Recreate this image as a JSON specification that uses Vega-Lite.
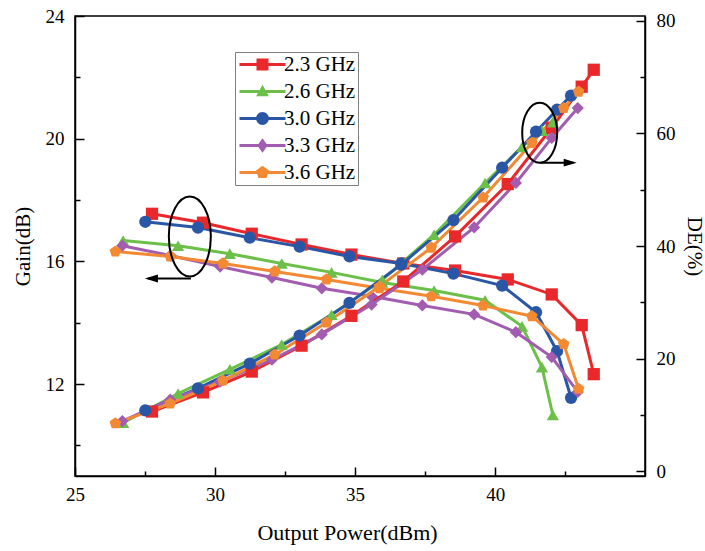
{
  "$schema": "https://vega.github.io/schema/vega-lite/v6.json",
  "width": 570,
  "height": 460,
  "autosize": {"type": "none"},
  "padding": {"left": 75, "top": 16, "right": 60, "bottom": 75},
  "background": "white",
  "config": {
    "view": {"stroke": "black", "strokeWidth": 1.5},
    "font": "Liberation Serif",
    "axis": {
      "grid": false,
      "domainColor": "black",
      "domainWidth": 1.5,
      "tickColor": "black",
      "tickWidth": 1.5,
      "labelFlush": false,
      "labelFont": "Liberation Serif",
      "labelFontSize": 19,
      "labelColor": "black",
      "titleFont": "Liberation Serif",
      "titleFontSize": 21,
      "titleFontWeight": "normal",
      "titleColor": "black"
    }
  },
  "datasets": {
    "main": [
      {"f": "2.3 GHz", "p": 27.75, "gain": 17.55, "de": 10.6},
      {"f": "2.3 GHz", "p": 29.57, "gain": 17.26, "de": 14.0},
      {"f": "2.3 GHz", "p": 31.31, "gain": 16.90, "de": 17.7},
      {"f": "2.3 GHz", "p": 33.09, "gain": 16.55, "de": 22.3},
      {"f": "2.3 GHz", "p": 34.87, "gain": 16.22, "de": 27.6},
      {"f": "2.3 GHz", "p": 36.72, "gain": 15.93, "de": 33.7},
      {"f": "2.3 GHz", "p": 38.57, "gain": 15.70, "de": 41.7},
      {"f": "2.3 GHz", "p": 40.45, "gain": 15.41, "de": 51.0},
      {"f": "2.3 GHz", "p": 42.02, "gain": 14.92, "de": 61.0},
      {"f": "2.3 GHz", "p": 43.09, "gain": 13.92, "de": 68.3},
      {"f": "2.3 GHz", "p": 43.52, "gain": 12.32, "de": 71.3},
      {"f": "2.6 GHz", "p": 26.72, "gain": 16.68, "de": 8.6},
      {"f": "2.6 GHz", "p": 28.68, "gain": 16.51, "de": 13.8},
      {"f": "2.6 GHz", "p": 30.53, "gain": 16.25, "de": 18.1},
      {"f": "2.6 GHz", "p": 32.38, "gain": 15.93, "de": 22.5},
      {"f": "2.6 GHz", "p": 34.16, "gain": 15.64, "de": 27.8},
      {"f": "2.6 GHz", "p": 35.97, "gain": 15.31, "de": 34.0},
      {"f": "2.6 GHz", "p": 37.82, "gain": 15.05, "de": 42.0},
      {"f": "2.6 GHz", "p": 39.64, "gain": 14.73, "de": 51.2},
      {"f": "2.6 GHz", "p": 40.96, "gain": 13.88, "de": 57.6},
      {"f": "2.6 GHz", "p": 41.67, "gain": 12.55, "de": 60.5},
      {"f": "2.6 GHz", "p": 42.06, "gain": 10.99, "de": 62.0},
      {"f": "3.0 GHz", "p": 27.51, "gain": 17.29, "de": 10.8},
      {"f": "3.0 GHz", "p": 29.39, "gain": 17.10, "de": 14.7},
      {"f": "3.0 GHz", "p": 31.24, "gain": 16.77, "de": 19.1},
      {"f": "3.0 GHz", "p": 33.02, "gain": 16.48, "de": 24.1},
      {"f": "3.0 GHz", "p": 34.80, "gain": 16.16, "de": 29.9},
      {"f": "3.0 GHz", "p": 36.65, "gain": 15.93, "de": 36.7},
      {"f": "3.0 GHz", "p": 38.51, "gain": 15.60, "de": 44.6},
      {"f": "3.0 GHz", "p": 40.25, "gain": 15.21, "de": 53.9},
      {"f": "3.0 GHz", "p": 41.46, "gain": 14.34, "de": 60.3},
      {"f": "3.0 GHz", "p": 42.21, "gain": 13.07, "de": 64.2},
      {"f": "3.0 GHz", "p": 42.71, "gain": 11.55, "de": 66.7},
      {"f": "3.3 GHz", "p": 26.69, "gain": 16.51, "de": 8.9},
      {"f": "3.3 GHz", "p": 28.40, "gain": 16.19, "de": 12.7},
      {"f": "3.3 GHz", "p": 30.18, "gain": 15.83, "de": 15.9},
      {"f": "3.3 GHz", "p": 32.03, "gain": 15.47, "de": 19.8},
      {"f": "3.3 GHz", "p": 33.81, "gain": 15.12, "de": 24.3},
      {"f": "3.3 GHz", "p": 35.59, "gain": 14.86, "de": 29.6},
      {"f": "3.3 GHz", "p": 37.40, "gain": 14.56, "de": 35.8},
      {"f": "3.3 GHz", "p": 39.25, "gain": 14.27, "de": 43.3},
      {"f": "3.3 GHz", "p": 40.74, "gain": 13.69, "de": 51.2},
      {"f": "3.3 GHz", "p": 42.02, "gain": 12.88, "de": 59.2},
      {"f": "3.3 GHz", "p": 42.95, "gain": 11.74, "de": 64.5},
      {"f": "3.6 GHz", "p": 26.44, "gain": 16.32, "de": 8.5},
      {"f": "3.6 GHz", "p": 28.40, "gain": 16.16, "de": 12.0},
      {"f": "3.6 GHz", "p": 30.28, "gain": 15.93, "de": 16.1},
      {"f": "3.6 GHz", "p": 32.13, "gain": 15.67, "de": 20.7},
      {"f": "3.6 GHz", "p": 33.98, "gain": 15.41, "de": 26.4},
      {"f": "3.6 GHz", "p": 35.87, "gain": 15.12, "de": 32.8},
      {"f": "3.6 GHz", "p": 37.72, "gain": 14.86, "de": 39.7},
      {"f": "3.6 GHz", "p": 39.57, "gain": 14.56, "de": 48.6},
      {"f": "3.6 GHz", "p": 41.31, "gain": 14.21, "de": 58.3},
      {"f": "3.6 GHz", "p": 42.45, "gain": 13.30, "de": 64.5},
      {"f": "3.6 GHz", "p": 42.98, "gain": 11.84, "de": 67.4}
    ],
    "gainNote": [{"cx": 29.1, "cy": 16.81, "a1": 29.14, "a2": 27.6, "ay": 15.44, "hx": 27.73}],
    "deNote": [{"cx": 41.59, "cy": 60.1, "a1": 41.62, "a2": 42.8, "ay": 54.8, "hx": 42.68}]
  },
  "encoding": {
    "x": {"type": "quantitative", "scale": {"domain": [25, 45.35], "nice": false, "zero": false},
      "axis": {
        "values": [25, 27.5, 30, 32.5, 35, 37.5, 40, 42.5],
        "labelExpr": "datum.value % 5 == 0 ? datum.label : ''",
        "tickSize": {"condition": {"test": "datum.value % 5 != 0", "value": -5}, "value": -9},
        "labelPadding": 18,
        "title": "Output Power(dBm)",
        "titleFontSize": 22,
        "titlePadding": 18,
        "titleX": 272,
        "titleAlign": "center"
      }}
  },
  "layer": [
    {
      "encoding": {
        "y": {"type": "quantitative", "scale": {"domain": [9, 24], "nice": false, "zero": false},
          "axis": {
            "orient": "left",
            "values": [10, 12, 14, 16, 18, 20, 22, 24],
            "labelExpr": "datum.value % 4 == 0 ? datum.label : ''",
            "tickSize": {"condition": {"test": "datum.value % 4 != 0", "value": -5}, "value": -9},
            "labelPadding": 20,
            "title": "Gain(dB)",
            "titlePadding": 12
          }}
      },
      "layer": [
        {
          "data": {"name": "main"},
          "mark": {"type": "line", "strokeWidth": 3},
          "encoding": {
            "x": {"field": "p"},
            "y": {"field": "gain"},
            "color": {"field": "f", "type": "nominal", "legend": null,
              "scale": {"domain": ["2.3 GHz", "2.6 GHz", "3.0 GHz", "3.3 GHz", "3.6 GHz"], "range": ["#e8282b", "#6cc049", "#2a57a5", "#a25db1", "#f38a33"]}}
          }
        },
        {
          "data": {"name": "main"},
          "mark": {"type": "point", "filled": true, "size": 150, "opacity": 1},
          "encoding": {
            "x": {"field": "p"},
            "y": {"field": "gain"},
            "color": {"field": "f", "type": "nominal", "legend": null,
              "scale": {"domain": ["2.3 GHz", "2.6 GHz", "3.0 GHz", "3.3 GHz", "3.6 GHz"], "range": ["#e8282b", "#6cc049", "#2a57a5", "#a25db1", "#f38a33"]}},
            "shape": {"field": "f", "type": "nominal", "legend": null,
              "scale": {"domain": ["2.3 GHz", "2.6 GHz", "3.0 GHz", "3.3 GHz", "3.6 GHz"], "range": ["square", "triangle-up", "circle", "diamond", "M0,-1L0.951,-0.309L0.588,0.809L-0.588,0.809L-0.951,-0.309Z"]}}
          }
        },
        {
          "data": {"name": "main"},
          "mark": {"type": "point", "filled": true, "opacity": 0},
          "encoding": {
            "x": {"field": "p"},
            "y": {"field": "gain"},
            "color": {"field": "f", "type": "nominal",
              "scale": {"domain": ["2.3 GHz", "2.6 GHz", "3.0 GHz", "3.3 GHz", "3.6 GHz"], "range": ["#e8282b", "#6cc049", "#2a57a5", "#a25db1", "#f38a33"]},
              "legend": {"title": null, "orient": "none", "legendX": 160, "legendY": 36, "padding": 2, "strokeColor": "#7f7f7f", "fillColor": "white",
                "symbolSize": 256, "symbolStrokeWidth": 0, "symbolOpacity": 1, "labelFont": "Liberation Serif", "labelFontSize": 21, "labelColor": "black", "labelOffset": 26, "rowPadding": 5}},
            "shape": {"field": "f", "type": "nominal",
              "scale": {"domain": ["2.3 GHz", "2.6 GHz", "3.0 GHz", "3.3 GHz", "3.6 GHz"], "range": [
                "M-1,-0.19H4.75V0.19H-1Z M1.125,-0.75H2.625V0.75H1.125Z",
                "M-1,-0.19H4.75V0.19H-1Z M1.875,-0.85L2.675,0.6L1.075,0.6Z",
                "M-1,-0.19H4.75V0.19H-1Z M2.675,0A0.8,0.8,0,1,1,1.075,0A0.8,0.8,0,1,1,2.675,0Z",
                "M-1,-0.19H4.75V0.19H-1Z M1.875,-0.9L2.525,0L1.875,0.9L1.225,0Z",
                "M-1,-0.19H4.75V0.19H-1Z M1.875,-0.85L2.685,-0.26L2.375,0.69L1.375,0.69L1.065,-0.26Z"
              ]},
              "legend": {"title": null, "orient": "none", "legendX": 160, "legendY": 36, "padding": 2, "strokeColor": "#7f7f7f", "fillColor": "white",
                "symbolSize": 256, "symbolStrokeWidth": 0, "symbolOpacity": 1, "labelFont": "Liberation Serif", "labelFontSize": 21, "labelColor": "black", "labelOffset": 26, "rowPadding": 5}}
          }
        },
        {
          "data": {"name": "gainNote"},
          "mark": {"type": "point", "shape": "M0.525,0A0.525,1,0,1,1,-0.525,0A0.525,1,0,1,1,0.525,0Z", "size": 6400, "filled": false, "stroke": "black", "strokeWidth": 2, "opacity": 1},
          "encoding": {
            "x": {"field": "cx"},
            "y": {"field": "cy"}
          }
        },
        {
          "data": {"name": "gainNote"},
          "mark": {"type": "rule", "stroke": "black", "strokeWidth": 2},
          "encoding": {
            "x": {"field": "a1"},
            "x2": {"field": "a2"},
            "y": {"field": "ay"}
          }
        },
        {
          "data": {"name": "gainNote"},
          "mark": {"type": "point", "shape": "M-1,0L1,-0.6L1,0.6Z", "size": 169, "filled": true, "color": "black", "opacity": 1},
          "encoding": {
            "x": {"field": "hx"},
            "y": {"field": "ay"}
          }
        }
      ],
      "resolve": {"scale": {"shape": "independent", "color": "independent"}}
    },
    {
      "encoding": {
        "y": {"type": "quantitative", "scale": {"domain": [-0.85, 80.85], "nice": false, "zero": false},
          "axis": {
            "orient": "right",
            "values": [0, 10, 20, 30, 40, 50, 60, 70, 80],
            "labelExpr": "datum.value % 20 == 0 ? datum.label : ''",
            "tickSize": {"condition": {"test": "datum.value % 20 != 0", "value": -5}, "value": -9},
            "labelPadding": 20,
            "title": "DE(%)",
            "titlePadding": 8
          }}
      },
      "layer": [
        {
          "data": {"name": "main"},
          "mark": {"type": "line", "strokeWidth": 3},
          "encoding": {
            "x": {"field": "p"},
            "y": {"field": "de"},
            "color": {"field": "f", "type": "nominal", "legend": null,
              "scale": {"domain": ["2.3 GHz", "2.6 GHz", "3.0 GHz", "3.3 GHz", "3.6 GHz"], "range": ["#e8282b", "#6cc049", "#2a57a5", "#a25db1", "#f38a33"]}}
          }
        },
        {
          "data": {"name": "main"},
          "mark": {"type": "point", "filled": true, "size": 150, "opacity": 1},
          "encoding": {
            "x": {"field": "p"},
            "y": {"field": "de"},
            "color": {"field": "f", "type": "nominal", "legend": null,
              "scale": {"domain": ["2.3 GHz", "2.6 GHz", "3.0 GHz", "3.3 GHz", "3.6 GHz"], "range": ["#e8282b", "#6cc049", "#2a57a5", "#a25db1", "#f38a33"]}},
            "shape": {"field": "f", "type": "nominal", "legend": null,
              "scale": {"domain": ["2.3 GHz", "2.6 GHz", "3.0 GHz", "3.3 GHz", "3.6 GHz"], "range": ["square", "triangle-up", "circle", "diamond", "M0,-1L0.951,-0.309L0.588,0.809L-0.588,0.809L-0.951,-0.309Z"]}}
          }
        },
        {
          "data": {"name": "deNote"},
          "mark": {"type": "point", "shape": "M0.583,0A0.583,1,0,1,1,-0.583,0A0.583,1,0,1,1,0.583,0Z", "size": 3600, "filled": false, "stroke": "black", "strokeWidth": 2, "opacity": 1},
          "encoding": {
            "x": {"field": "cx"},
            "y": {"field": "cy"}
          }
        },
        {
          "data": {"name": "deNote"},
          "mark": {"type": "rule", "stroke": "black", "strokeWidth": 2},
          "encoding": {
            "x": {"field": "a1"},
            "x2": {"field": "a2"},
            "y": {"field": "ay"}
          }
        },
        {
          "data": {"name": "deNote"},
          "mark": {"type": "point", "shape": "M1,0L-1,-0.6L-1,0.6Z", "size": 169, "filled": true, "color": "black", "opacity": 1},
          "encoding": {
            "x": {"field": "hx"},
            "y": {"field": "ay"}
          }
        }
      ]
    }
  ],
  "resolve": {"scale": {"y": "independent", "shape": "independent", "color": "independent"}}
}
